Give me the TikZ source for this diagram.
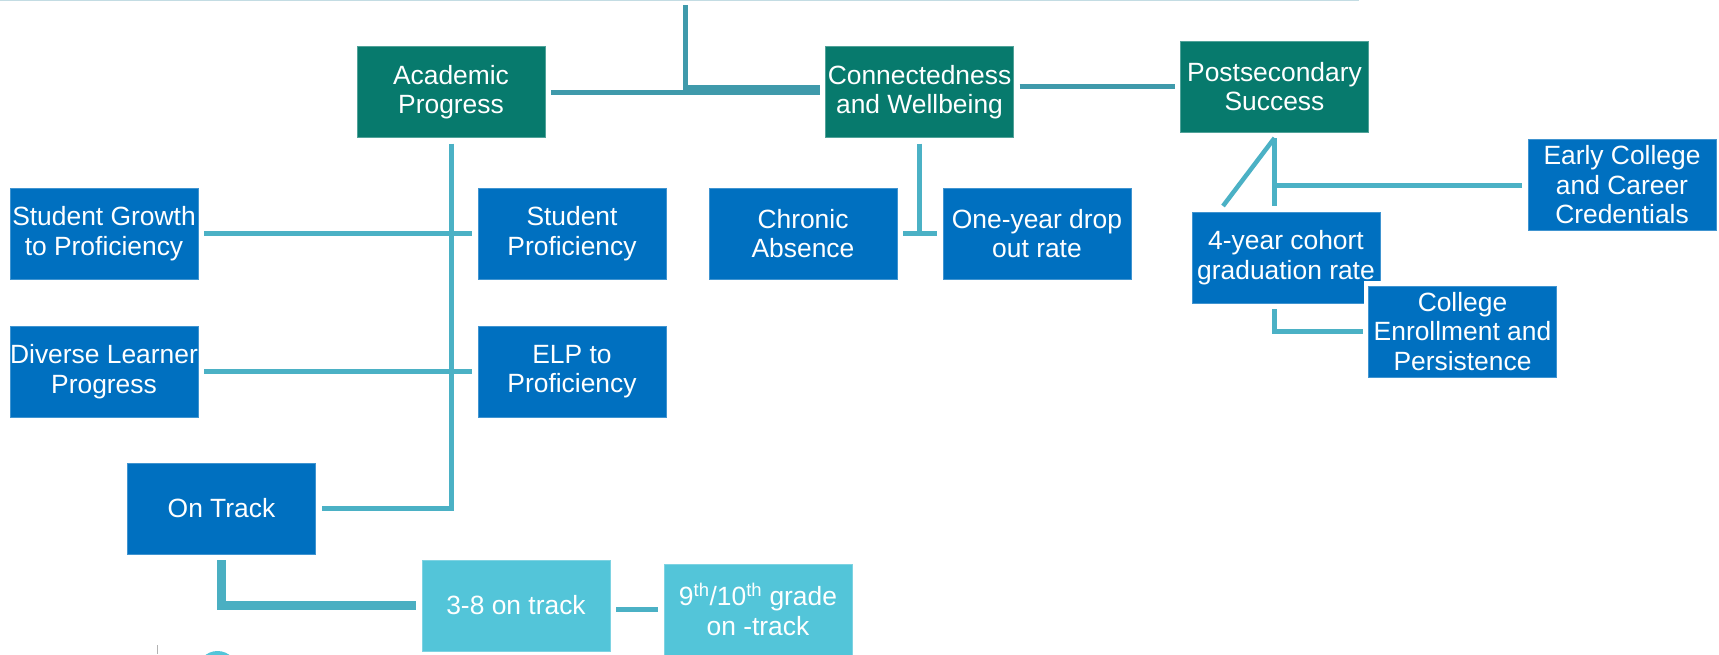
\documentclass[tikz,border=0pt]{standalone}
\usepackage{fontspec}
\setmainfont{Liberation Sans}
\definecolor{hgreen}{HTML}{077A6D}
\definecolor{hblue}{HTML}{0070C0}
\definecolor{hcyan}{HTML}{53C5D9}
\definecolor{lline}{HTML}{4BB1C5}
\definecolor{dline}{HTML}{3F9AAB}
\definecolor{thinline}{HTML}{C3DCE3}
\tikzset{
  box/.style={rectangle, minimum width=188pt, minimum height=91pt, inner sep=0pt,
    outer sep=6pt, align=center, text=white,
    font=\fontsize{26.4pt}{29.5pt}\selectfont},
  gbox/.style={box, fill=hgreen, draw=hgreen!70!white, line width=0.8pt},
  bbox/.style={box, fill=hblue, draw=hblue!75!white, line width=0.8pt},
  cbox/.style={box, fill=hcyan, draw=hcyan!75!white, line width=0.8pt},
  conn/.style={draw=lline, line width=5pt},
  topconn/.style={draw=dline, line width=5pt},
  thickconn/.style={draw=lline!90!dline, line width=9pt},
}
\begin{document}
\begin{tikzpicture}[x=1pt,y=-1pt]
\clip (0,0) rectangle (1719,654);
\fill[white] (0,0) rectangle (1719,654);
% top thin line
\draw[draw=thinline, line width=1.5pt] (0,0.5) -- (1359,0.5);

% header boxes
\node[gbox] (ap) at (451,92) {Academic\\Progress};
\node[gbox] (cw) at (919.5,92) {Connectedness\\and Wellbeing};
\node[gbox] (ps) at (1274.5,86.5) {Postsecondary\\Success};

% academic children
\node[bbox] (sg) at (104,233.5) {Student Growth\\to Proficiency};
\node[bbox] (sp) at (572,233.5) {Student\\Proficiency};
\node[bbox] (dl) at (104,371.5) {Diverse Learner\\Progress};
\node[bbox] (elp) at (572,371.5) {ELP to\\Proficiency};
\node[bbox] (ot) at (221.5,508.5) {On Track};
\node[cbox] (t38) at (516,605.5) {3-8 on track};
\node[cbox] (g910) at (758,609.5) {9\textsuperscript{th}/10\textsuperscript{th} grade\\on -track};

% connectedness children
\node[bbox] (ca) at (803,233.5) {Chronic\\Absence};
\node[bbox] (od) at (1037,233.5) {One-year drop\\out rate};

% postsecondary children
\node[bbox] (gr) at (1286,257.5) {4-year cohort\\graduation rate};
\node[bbox, preaction={draw=white, line width=10pt}] (ce) at (1462.5,331.5) {College\\Enrollment and\\Persistence};
\node[bbox] (ec) at (1622,185) {Early College\\and Career\\Credentials};

% top connectors
\coordinate (topc) at (685,5);
\draw[topconn] (ap.east) -- (cw.west);
\draw[topconn] (topc) |- (cw.west |- 0,87);
\draw[topconn] (cw.east |- ps.west) -- (ps.west);

% academic connectors
\draw[conn] (ap.south) |- (ot.east);
\draw[conn] (sg.east) -- (sp.west);
\draw[conn] (dl.east) -- (elp.west);
\draw[thickconn] (ot.south) |- (t38.west);
\draw[conn] (t38.east |- g910.west) -- (g910.west);

% connectedness connectors
\draw[conn] (cw.south) -- (cw.south |- ca.east);
\draw[conn] (ca.east) -- (od.west);

% postsecondary connectors
\coordinate (dg) at (1223,206);
\draw[conn] (ps.south) -- (ps.south |- gr.north);
\draw[conn, line width=4.5pt] (ps.south) -- (dg);
\draw[conn] (ec.west) -- (ps.south |- ec.west);
\draw[conn] (ps.south |- gr.south) |- (ce.west);

% footer fragments
\draw[gray!60, line width=1pt] (157,645) -- (157,654);
\fill[hcyan] (217.5,671) circle (20);
\end{tikzpicture}
\end{document}
